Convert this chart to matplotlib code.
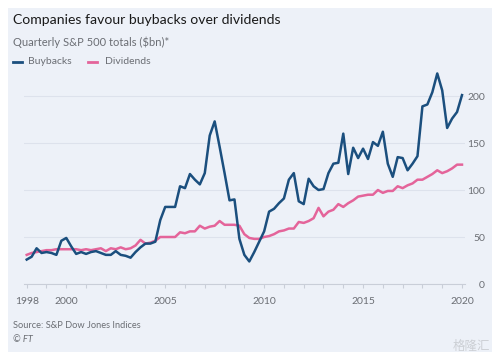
import matplotlib
matplotlib.use('Agg')
import matplotlib.pyplot as plt
import numpy as np
from matplotlib.patches import Rectangle

plt.rcParams['font.family'] = ['Lato', 'Noto Sans CJK SC', 'DejaVu Sans']

# Quarterly S&P 500 totals ($bn), Q1 1998 - Q1 2020
start_year = 1998
buybacks = [26, 29, 38, 33, 34, 33, 31, 46, 49, 40, 32, 34, 32, 34, 35, 33,
            31, 31, 35, 31, 30, 28, 34, 39, 43, 43, 45, 68, 82, 82, 82, 104,
            102, 117, 111, 106, 118, 158, 173, 146, 118, 89, 90, 48, 31, 24,
            34, 45, 56, 77, 80, 86, 91, 111, 118, 88, 85, 112, 104, 100, 101,
            118, 128, 129, 160, 117, 145, 134, 144, 133, 151, 147, 162, 128,
            114, 135, 134, 121, 128, 136, 189, 191, 204, 224, 206, 166, 176,
            183, 201]
dividends = [31, 33, 34, 35, 36, 36, 37, 37, 37, 37, 37, 36, 37, 36, 37, 38,
             35, 38, 37, 39, 37, 38, 41, 47, 43, 44, 46, 50, 50, 50, 50, 55,
             54, 56, 56, 62, 59, 61, 62, 67, 63, 63, 63, 62, 53, 49, 48, 48,
             50, 51, 53, 56, 57, 59, 59, 66, 65, 67, 70, 81, 72, 77, 79, 85,
             82, 86, 89, 93, 94, 95, 95, 100, 97, 99, 99, 104, 102, 105, 107,
             111, 111, 114, 117, 121, 118, 120, 123, 127, 127]
quarters = start_year + np.arange(len(buybacks)) / 4.0

year_ticks = [1998, 2000, 2005, 2010, 2015, 2020]
value_ticks = [0, 50, 100, 150, 200]

BLUE = '#1b4f7e'
PINK = '#e4649a'
BG = '#edf1f8'
GREY = '#6b6e74'

W, H = 499, 359
fig = plt.figure(figsize=(W / 100, H / 100), dpi=100)
fig.patch.set_facecolor('white')
fig.patches.append(Rectangle((8 / W, 1 - 352 / H), 484 / W, 344 / H,
                             transform=fig.transFigure, facecolor=BG,
                             edgecolor='none', zorder=-10))

ax = fig.add_axes([24 / W, 1 - 284 / H, 441 / W, 214 / H])
ax.set_facecolor('none')
ax.plot(quarters, dividends, color=PINK, linewidth=1.8, solid_joinstyle='round', clip_on=False)
ax.plot(quarters, buybacks, color=BLUE, linewidth=1.8, solid_joinstyle='round', clip_on=False)

ax.set_xlim(1997.863, 2020.152)
ax.set_ylim(0, 227.7)
ax.set_xticks(year_ticks)
ax.set_xticks(range(1998, 2021), minor=True)
ax.set_yticks(value_ticks)
ax.yaxis.tick_right()
ax.tick_params(axis='y', length=0, pad=14.4, labelsize=7.5, labelcolor=GREY)
for lab in ax.get_yticklabels():
    lab.set_horizontalalignment('right')
ax.tick_params(axis='x', which='both', length=3, color='#c9ced8', width=0.8,
               labelsize=7.5, labelcolor=GREY, pad=6)
ax.grid(axis='y', color='#dde2ec', linewidth=0.8)
ax.set_axisbelow(True)
for s in ['top', 'right', 'left']:
    ax.spines[s].set_visible(False)
ax.spines['bottom'].set_color('#c9ced8')
ax.spines['bottom'].set_linewidth(0.8)

# Titles and legend
fig.text(13 / W, 1 - 20 / H, 'Companies favour buybacks over dividends',
         fontsize=10.1, color='#1a1a1a', va='center', ha='left')
fig.text(13 / W, 1 - 42 / H, 'Quarterly S&P 500 totals ($bn)*',
         fontsize=8, color=GREY, va='center', ha='left')
fig.lines.append(plt.Line2D([13 / W, 22 / W], [1 - 62 / H] * 2, color=BLUE,
                            linewidth=2, transform=fig.transFigure))
fig.text(28 / W, 1 - 62 / H, 'Buybacks', fontsize=7.5, color=GREY, va='center')
fig.lines.append(plt.Line2D([88 / W, 97 / W], [1 - 62 / H] * 2, color=PINK,
                            linewidth=2, transform=fig.transFigure))
fig.text(105 / W, 1 - 62 / H, 'Dividends', fontsize=7.5, color=GREY, va='center')

fig.text(13 / W, 1 - 326 / H, 'Source: S&P Dow Jones Indices',
         fontsize=6.7, color=GREY, va='center')
fig.text(13 / W, 1 - 339 / H, '© FT', fontsize=6.7, color=GREY, va='center',
         style='italic')
fig.text(490 / W, 1 - 346 / H, '格隆汇', fontsize=9, color='#c4c7cc',
         va='center', ha='right', alpha=0.8)

fig.savefig('out.png', dpi=100)
plt.close()
